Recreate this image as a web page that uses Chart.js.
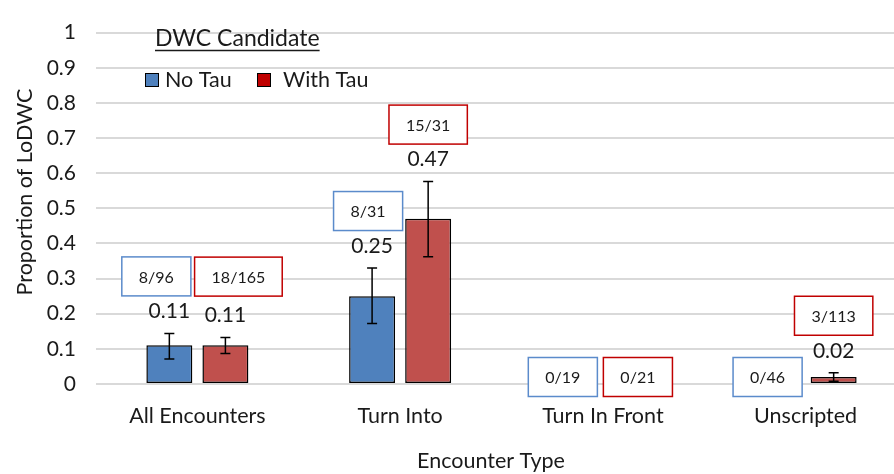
<!DOCTYPE html>
<html>
<head>
<meta charset="utf-8">
<script src="https://cdn.jsdelivr.net/npm/chart.js@4"></script>
<style>
  html, body { margin: 0; padding: 0; background: #fff; overflow: hidden; }
  #wrap { width: 894px; height: 474px; overflow: hidden; }
</style>
</head>
<body>
<div id="wrap"><canvas id="chart" width="912" height="474"></canvas></div>
<script>
// Categories and series
const categories = ['All Encounters', 'Turn Into', 'Turn In Front', 'Unscripted'];
const noTau = [0.11, 0.25, 0, 0];
const withTau = [0.11, 0.47, 0, 0.02];

// Error bar ranges (low / high)
const noTauLow = [0.071, 0.172, 0, 0];
const noTauHigh = [0.144, 0.33, 0, 0];
const withTauLow = [0.087, 0.362, 0, 0.008];
const withTauHigh = [0.132, 0.576, 0, 0.032];

// Counts shown in the boxes
const noTauCounts = ['8/96', '8/31', '0/19', '0/46'];
const withTauCounts = ['18/165', '15/31', '0/21', '3/113'];

// Y axis ticks
const yTicks = [0, 0.1, 0.2, 0.3, 0.4, 0.5, 0.6, 0.7, 0.8, 0.9, 1];

const FONT = 'Lato, "Open Sans", sans-serif';
const TEXT = '#1a1a1a';

// Draws error bars, value labels, count boxes, legend and axis titles
const annotations = {
  id: 'annotations',
  afterDatasetsDraw(chart, args, opts) {
    const ctx = chart.ctx;
    const y = chart.scales.y;
    ctx.save();
    chart.data.datasets.forEach((ds, di) => {
      const meta = chart.getDatasetMeta(di);
      meta.data.forEach((bar, i) => {
        const v = ds.data[i];
        const hi = ds.errHigh[i];
        const lo = ds.errLow[i];
        if (v > 0) {
          // error bar
          ctx.strokeStyle = '#000';
          ctx.lineWidth = 1.5;
          ctx.beginPath();
          ctx.moveTo(bar.x, y.getPixelForValue(hi));
          ctx.lineTo(bar.x, y.getPixelForValue(lo));
          ctx.moveTo(bar.x - 5, y.getPixelForValue(hi));
          ctx.lineTo(bar.x + 5, y.getPixelForValue(hi));
          ctx.moveTo(bar.x - 5, y.getPixelForValue(lo));
          ctx.lineTo(bar.x + 5, y.getPixelForValue(lo));
          ctx.stroke();
        }
        // value label
        const labelY = y.getPixelForValue(hi) - 22;
        if (v > 0) {
          ctx.fillStyle = TEXT;
          ctx.font = '21px ' + FONT;
          ctx.textAlign = 'center';
          ctx.textBaseline = 'middle';
          ctx.fillText(v.toFixed(2), bar.x, labelY);
        }
        // count box
        const boxY = (v > 0 ? labelY - 35 : y.getPixelForValue(0) - 7) + opts.boxLift[di][i];
        const boxX = bar.x + opts.boxShift[di][i];
        ctx.font = '16px ' + FONT;
        const w = ctx.measureText(ds.counts[i]).width + 34;
        const h = 39;
        ctx.strokeStyle = ds.boxColor;
        ctx.lineWidth = 1.5;
        ctx.fillStyle = '#fff';
        ctx.fillRect(boxX - w / 2, boxY - h / 2, w, h);
        ctx.strokeRect(boxX - w / 2, boxY - h / 2, w, h);
        ctx.fillStyle = TEXT;
        ctx.textAlign = 'center';
        ctx.textBaseline = 'middle';
        ctx.fillText(ds.counts[i], boxX, boxY + 1);
      });
    });

    // legend
    ctx.fillStyle = TEXT;
    ctx.font = '23px ' + FONT;
    ctx.textAlign = 'left';
    ctx.textBaseline = 'alphabetic';
    ctx.fillText('DWC Candidate', 155, 46);
    const tw = ctx.measureText('DWC Candidate').width;
    ctx.strokeStyle = TEXT;
    ctx.lineWidth = 1.5;
    ctx.beginPath();
    ctx.moveTo(155, 50.5);
    ctx.lineTo(155 + tw, 50.5);
    ctx.stroke();

    const legendX = [145, 257];
    chart.data.datasets.forEach((ds, di) => {
      ctx.fillStyle = ds.legendColor;
      ctx.fillRect(legendX[di], 73, 14, 14);
      ctx.strokeStyle = '#000';
      ctx.lineWidth = 1;
      ctx.strokeRect(legendX[di] + 0.5, 73.5, 13, 13);
      ctx.fillStyle = TEXT;
      ctx.font = '21.5px ' + FONT;
      ctx.textBaseline = 'middle';
      ctx.textAlign = 'left';
      ctx.fillText(ds.label, legendX[di] + (di === 0 ? 20 : 26), 80);
    });

    // axis titles
    ctx.font = '21.5px ' + FONT;
    ctx.textAlign = 'center';
    ctx.textBaseline = 'middle';
    ctx.fillText('Encounter Type', 491, 461);
    ctx.translate(25, 192);
    ctx.rotate(-Math.PI / 2);
    ctx.fillText('Proportion of LoDWC', 0, 0);
    ctx.restore();
  }
};

new Chart(document.getElementById('chart'), {
  type: 'bar',
  data: {
    labels: categories,
    datasets: [
      {
        label: 'No Tau',
        data: noTau,
        errLow: noTauLow,
        errHigh: noTauHigh,
        counts: noTauCounts,
        backgroundColor: '#4F81BD',
        legendColor: '#4F81BD',
        boxColor: '#5B8BCB',
        borderColor: '#000',
        borderWidth: 1.5,
        borderSkipped: false
      },
      {
        label: 'With Tau',
        data: withTau,
        errLow: withTauLow,
        errHigh: withTauHigh,
        counts: withTauCounts,
        backgroundColor: '#C0504D',
        legendColor: '#C00000',
        boxColor: '#C00000',
        borderColor: '#000',
        borderWidth: 1.5,
        borderSkipped: false
      }
    ]
  },
  options: {
    responsive: false,
    animation: false,
    devicePixelRatio: 1,
    categoryPercentage: 0.553,
    barPercentage: 0.82,
    layout: { padding: { left: 0, right: 5, top: 21, bottom: 0 } },
    plugins: {
      legend: { display: false },
      tooltip: { enabled: false },
      annotations: {
        boxShift: [[-13, -4, -12, -10], [13, 0, 7, 0]],
        boxLift: [[0, 0, 0, 0], [-4, 0, 0, 0]]
      }
    },
    scales: {
      x: {
        grid: { display: false },
        border: { display: false },
        ticks: { color: TEXT, font: { family: FONT, size: 21.5 }, padding: 11 },
        afterFit: s => { s.height = 90; }
      },
      y: {
        min: 0,
        max: 1,
        afterBuildTicks: s => { s.ticks = yTicks.map(v => ({ value: v })); },
        grid: { color: '#D9D9D9', lineWidth: 2, drawTicks: false },
        border: { display: false },
        ticks: {
          color: TEXT,
          font: { family: FONT, size: 21 },
          padding: 20,
          callback: v => String(Number(v.toFixed(1)))
        },
        afterFit: s => { s.width = 96; }
      }
    }
  },
  plugins: [annotations]
});
</script>
</body>
</html>
